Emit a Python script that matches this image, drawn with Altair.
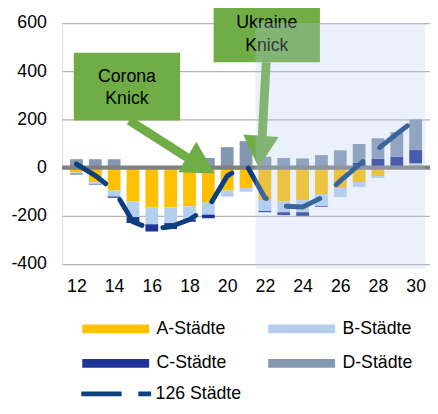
import altair as alt
import pandas as pd

# ---------------- data ----------------
years = list(range(12, 31))
a_vals = [-20, -60, -95, -140, -165, -165, -160, -145, -95, -85, -135, -140, -135, -110, -85, -60, -35, 0, 10]
b_vals = [-5, -8, -25, -65, -70, -65, -55, -50, -25, -15, -45, -45, -50, -50, -37, -20, -8, 0, 8]
c_vals = [-3, -2, -5, -25, -30, -25, -10, -15, 0, 0, -5, -12, -15, -3, 0, 20, 37, 45, 55]
d_vals = [35, 35, 35, 0, 0, 0, 20, 40, 85, 110, 45, 40, 38, 52, 72, 78, 85, 102, 127]
total_126 = [15, -33, -94, -225, -255, -245, -215, -165, -35, 15, -125, -160, -163, -125, -55, 12, 78, 140, 200]

series_names = ["A-Städte", "B-Städte", "C-Städte", "D-Städte"]
series_colors = ["#ffc000", "#b4cfee", "#1f3497", "#8497b0"]
# legend is filled column by column: order so rows read A B / C D
legend_order = [0, 2, 1, 3]
line_name = "126 Städte"
line_color = "#0c3f7e"

x_ticks = [12, 14, 16, 18, 20, 22, 24, 26, 28, 30]
y_ticks = [-400, -200, 0, 200, 400, 600]

# annotations (data units)
box_x = [11.86, 19.28]
box_x2 = [17.5, 24.92]
box_y = [477, 690]
box_y2 = [196, 437]
label_x = [14.68, 14.68, 22.1, 22.1]
label_y = [375, 286, 600, 506]
label_text = ["Corona", "Knick", "Ukraine", "Knick"]
shaft_x = [14.8, 22.07]
shaft_y = [196, 437]
shaft_x2 = [18.31, 21.82]
shaft_y2 = [20, 78]
head_x = [19.33, 21.67]
head_y = [-24, 0]
head_angle = [301, 4]
shade_x, shade_x2, shade_y, shade_y2 = [21.5], [30.5], [600], [-420]

# ---------------- tables ----------------
rows = []
for i, yr in enumerate(years):
    for k, (name, vals) in enumerate(zip(series_names, [a_vals, b_vals, c_vals, d_vals])):
        rows.append({"year": yr, "series": name, "value": vals[i], "order": k})
bars_df = pd.DataFrame(rows)
line_df = pd.DataFrame({"year": years, "value": total_126, "series": [line_name] * len(years)})
boxes_df = pd.DataFrame({"x": box_x, "x2": box_x2, "y": box_y, "y2": box_y2})
labels_df = pd.DataFrame({"x": label_x, "y": label_y, "text": label_text})
shafts_df = pd.DataFrame({"x": shaft_x, "y": shaft_y, "x2": shaft_x2, "y2": shaft_y2})
heads_df = pd.DataFrame({"x": head_x, "y": head_y, "angle": head_angle})
shade_df = pd.DataFrame({"x": shade_x, "x2": shade_x2, "y": shade_y, "y2": shade_y2})
zero_df = pd.DataFrame({"y": [0]})

FONT = "Liberation Sans"
GREEN = "#70ad47"

xscale = alt.Scale(domain=[11.5, 30.5], nice=False, zero=False)
yscale = alt.Scale(domain=[-400, 600], nice=False, zero=False)

x_axis = alt.Axis(values=x_ticks, title=None, grid=False, domain=False, ticks=False,
                  labelFontSize=18, labelColor="black", labelPadding=14, format="d", labelFont=FONT)
y_axis = alt.Axis(values=y_ticks, title=None, grid=True, gridColor="#b4b4b4", gridWidth=1.3,
                  domain=False, ticks=False, labelFontSize=18, labelColor="black",
                  labelPadding=16, labelExpr="'' + datum.value", labelFont=FONT)

bars = alt.Chart(bars_df).mark_bar(size=13).encode(
    x=alt.X("year:Q", scale=xscale, axis=x_axis),
    y=alt.Y("value:Q", stack="zero", scale=yscale, axis=y_axis),
    fill=alt.Fill("series:N",
                  scale=alt.Scale(domain=[series_names[i] for i in legend_order],
                                  range=[series_colors[i] for i in legend_order]),
                  legend=alt.Legend(title=None, orient="none", legendX=20, legendY=302, columns=2,
                                    symbolType="M-1,-0.52H7V0.52H-1Z", symbolSize=289,
                                    symbolStrokeWidth=0, labelOffset=58, columnPadding=41,
                                    rowPadding=17, labelFontSize=18, labelColor="black",
                                    labelFont=FONT, padding=0)),
    order=alt.Order("order:Q"),
)

zero_rule = alt.Chart(zero_df).mark_rule(color="#808080", strokeWidth=4.5).encode(
    y=alt.Y("y:Q", scale=yscale)
)

line = alt.Chart(line_df).mark_line(strokeWidth=5, strokeDash=[36, 22], strokeCap="round").encode(
    x=alt.X("year:Q", scale=xscale),
    y=alt.Y("value:Q", scale=yscale),
    stroke=alt.Stroke("series:N", scale=alt.Scale(domain=[line_name], range=[line_color]),
                      legend=alt.Legend(title=None, orient="none", legendX=17, legendY=366,
                                        symbolType="M-1,0H7.35", symbolSize=289,
                                        symbolStrokeWidth=5, symbolDash=[41, 17],
                                        labelOffset=56, labelFontSize=18, labelColor="black",
                                        labelFont=FONT, padding=0)),
)

boxes = alt.Chart(boxes_df).mark_rect(fill=GREEN).encode(
    x=alt.X("x:Q", scale=xscale), x2="x2:Q",
    y=alt.Y("y:Q", scale=yscale), y2="y2:Q",
)
labels = alt.Chart(labels_df).mark_text(fontSize=18, font=FONT, color="black").encode(
    x=alt.X("x:Q", scale=xscale), y=alt.Y("y:Q", scale=yscale), text="text:N"
)
shafts = alt.Chart(shafts_df).mark_rule(color=GREEN, strokeWidth=9).encode(
    x=alt.X("x:Q", scale=xscale), x2="x2:Q",
    y=alt.Y("y:Q", scale=yscale), y2="y2:Q",
)
heads = alt.Chart(heads_df).mark_point(shape="M0,0L-1,-1.8L1,-1.8Z", filled=True, size=1300,
                                       fill=GREEN, opacity=1, strokeWidth=0).encode(
    x=alt.X("x:Q", scale=xscale), y=alt.Y("y:Q", scale=yscale),
    angle=alt.Angle("angle:Q", scale=None),
)
shade = alt.Chart(shade_df).mark_rect(fill="#b4cceb", opacity=0.27).encode(
    x=alt.X("x:Q", scale=xscale), x2="x2:Q",
    y=alt.Y("y:Q", scale=yscale), y2="y2:Q",
)

chart = alt.layer(bars, zero_rule, line, boxes, labels, shafts, heads, shade).resolve_legend(
    fill="independent", stroke="independent"
).properties(
    width=374, height=245,
    autosize=alt.AutoSizeParams(type="none"),
    padding={"left": 55, "top": 12, "right": 0, "bottom": 140},
).configure_view(stroke=None).configure(background="white", font=FONT)

chart.save("out.html", embed_options={"renderer": "svg", "actions": False})
